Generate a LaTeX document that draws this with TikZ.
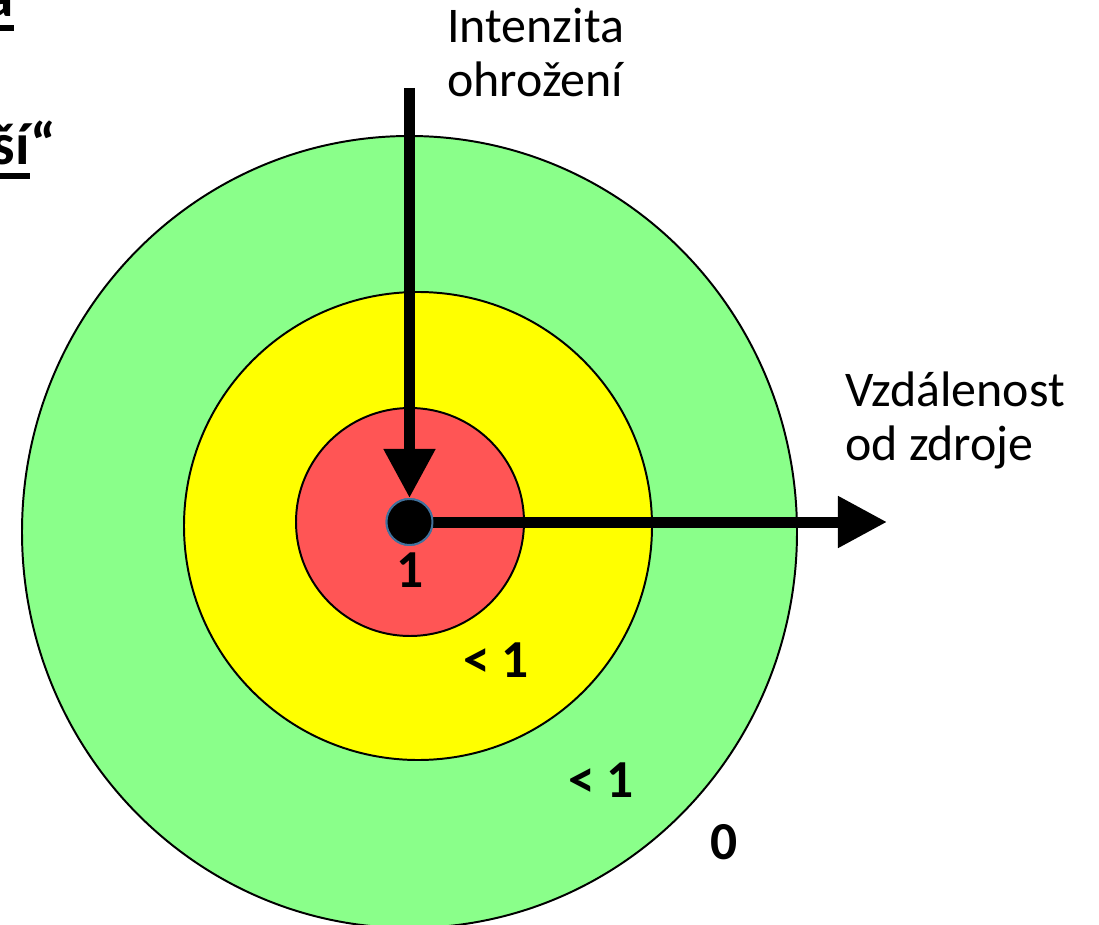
\documentclass[tikz,border=0pt]{standalone}
\usepackage{fontspec}
\setmainfont{Carlito}
\usetikzlibrary{positioning}
\usetikzlibrary{arrows.meta}
\definecolor{zonegreen}{RGB}{138,255,138}
\definecolor{zoneyellow}{RGB}{255,255,0}
\definecolor{zonered}{RGB}{255,85,85}
\definecolor{dotrim}{RGB}{65,113,156}
\newcommand{\thickul}[1]{\setbox0\hbox{#1}\rlap{\rule[-0.23em]{\wd0}{0.09em}}\box0}
\begin{document}
\begin{tikzpicture}[x=0.025cm, y=-0.025cm,
    zone/.style={draw=black, line width=1.4pt},
    axis/.style={line width=0.275cm, -{Triangle[length=1.225cm, width=1.225cm]}},
    caption/.style={font=\fontsize{35.5}{38.4}\selectfont, align=left, inner sep=0pt},
    value/.style={font=\fontsize{38}{44}\selectfont\bfseries, inner sep=0pt},
    heading/.style={font=\fontsize{42}{48}\selectfont\bfseries, inner sep=0pt}]
    \useasboundingbox (0,0) rectangle (1099,925);
    % Zones
    \filldraw[zone, fill=zonegreen] (409.5,532) ellipse[x radius=387.5, y radius=396];
    \filldraw[zone, fill=zoneyellow] (418,526) circle[radius=234];
    \filldraw[zone, fill=zonered] (410,522) circle[radius=114];
    % Source and axes
    \node[circle, fill=black, draw=dotrim, line width=1.4pt, minimum size=1.15cm, inner sep=0pt] (src) at (409.5,522) {};
    \coordinate (top) at (409.5,88);
    \coordinate (far) at (887,522);
    \draw[axis] (top) -- (src.north);
    \draw[axis] (src.east) -- (far);
    \node[circle, fill=black, draw=dotrim, line width=1.4pt, minimum size=1.15cm, inner sep=0pt] at (src) {};
    % Axis captions
    \node[caption, anchor=base west] (threat) at (447,97) {Intenzita\\ohrožení};
    \node[caption, anchor=base west] (dist) at (845,460) {Vzdálenost\\od zdroje};
    % Values
    \node[value] (vred) at (410,570) {1};
    \node[value] (vyellow) at (496,660) {< 1};
    \node[value] (vgreen) at (601,780) {< 1};
    \node[value] (vout) at (724.5,842) {0};
    % Cut-off heading
    \node[heading, anchor=base east] (head1) at (14,17) {\thickul{a}};
    \node[heading, anchor=base east] (head2) at (56,165) {\thickul{ší}“};
\end{tikzpicture}
\end{document}
